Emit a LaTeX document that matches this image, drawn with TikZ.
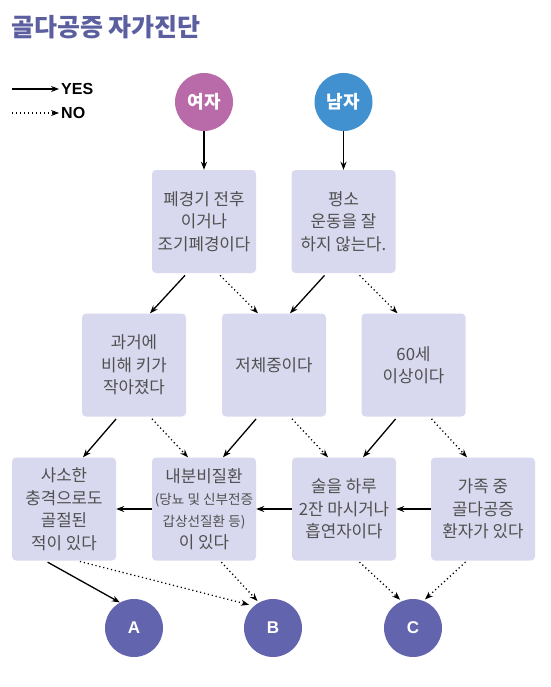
\documentclass[tikz,border=0pt]{standalone}
\usepackage{fontspec}
\setmainfont{Noto Sans CJK KR}
\newfontfamily\latinb{Liberation Sans}
\usetikzlibrary{arrows.meta}
\definecolor{boxfill}{HTML}{D8D9EF}
\definecolor{titlecol}{HTML}{5B5FA0}
\definecolor{femcol}{HTML}{B96AA9}
\definecolor{malecol}{HTML}{4190D0}
\definecolor{endcol}{HTML}{6264AE}
\definecolor{txtcol}{HTML}{505050}
\tikzset{
  qbox/.style={fill=boxfill, rounded corners=4pt, minimum width=104pt, minimum height=103pt,
    inner sep=0pt, align=center, text=txtcol, font=\fontsize{16.8}{22.5}\selectfont},
  startc/.style={circle, minimum size=58pt, inner sep=0pt, text=white, font=\bfseries\fontsize{18}{20}\selectfont},
  endc/.style={circle, fill=endcol, minimum size=58pt, inner sep=0pt, text=white, font=\latinb\bfseries\fontsize{17}{18}\selectfont},
  yes/.style={draw=black, line width=1.3pt, -{Stealth[length=8pt,width=6pt]}},
  no/.style={draw=black, line width=1.3pt, dash pattern=on 1.2pt off 2.8pt, -{Stealth[length=8pt,width=6pt]}},
  legtxt/.style={anchor=west, inner sep=0pt, font=\latinb\bfseries\fontsize{16}{18}\selectfont}
}
\begin{document}
\begin{tikzpicture}[x=1pt,y=-1pt]
\useasboundingbox (0,0) rectangle (550,687);
% title
\node[anchor=base west, inner sep=0pt, text=titlecol, font=\bfseries\fontsize{25}{28}\selectfont] (title) at (11,36.5) {골다공증 자가진단};
% legend
\coordinate (ys) at (12,89);
\coordinate (ye) at (59,89);
\coordinate (ns) at (12,113);
\coordinate (ne) at (59,113);
\draw[yes, line width=1.1pt] (ys) -- (ye);
\draw[no, line width=1.1pt] (ns) -- (ne);
\node[legtxt] (yesl) at (61,89) {YES};
\node[legtxt] (nol) at (61,113) {NO};
% start circles
\node[startc, fill=femcol] (F) at (204,102) {여자};
\node[startc, fill=malecol] (M) at (343.5,102) {남자};
% row 1
\node[qbox] (b1) at (204,221.5) {폐경기 전후\\이거나\\조기폐경이다};
\node[qbox] (b2) at (343.5,221.5) {평소\\운동을 잘\\하지 않는다.};
% row 2
\node[qbox] (r2a) at (134,365) {과거에\\비해 키가\\작아졌다};
\node[qbox] (r2b) at (274,365) {저체중이다};
\node[qbox] (r2c) at (413.5,365) {60세\\이상이다};
% row 3
\node[qbox] (r3a) at (64,509) {사소한\\충격으로도\\골절된\\적이 있다};
\node[qbox] (r3b) at (204,509) {내분비질환\\[-1pt]{\fontsize{13.6}{21}\selectfont (당뇨 및 신부전증}\\{\fontsize{13.6}{21}\selectfont 갑상선질환 등)}\\[-1pt]이 있다};
\node[qbox] (r3c) at (344,509) {술을 하루\\2잔 마시거나\\흡연자이다};
\node[qbox] (r3d) at (483,509) {가족 중\\골다공증\\환자가 있다};
% end circles
\node[endc] (A) at (134,628) {A};
\node[endc] (B) at (273,628) {B};
\node[endc] (C) at (413,628) {C};
% arrows from start
\draw[yes] (F) -- (b1);
\draw[yes] (M) -- (b2);
% row1 -> row2
\draw[yes, shorten <=3pt] ([xshift=-17pt]b1.south) -- ([xshift=16pt]r2a.north);
\draw[no, shorten <=3pt] ([xshift=14pt]b1.south) -- ([xshift=-16pt]r2b.north);
\draw[yes, shorten <=3pt] ([xshift=-17pt]b2.south) -- ([xshift=16pt]r2b.north);
\draw[no, shorten <=3pt] ([xshift=14pt]b2.south) -- ([xshift=-16pt]r2c.north);
% row2 -> row3
\draw[yes, shorten <=3pt] ([xshift=-16pt]r2a.south) -- ([xshift=19pt]r3a.north);
\draw[no, shorten <=3pt] ([xshift=16pt]r2a.south) -- ([xshift=-16pt]r3b.north);
\draw[yes, shorten <=3pt] ([xshift=-16pt]r2b.south) -- ([xshift=19pt]r3b.north);
\draw[no, shorten <=3pt] ([xshift=16pt]r2b.south) -- ([xshift=-16pt]r3c.north);
\draw[yes, shorten <=3pt] ([xshift=-16pt]r2c.south) -- ([xshift=19pt]r3c.north);
\draw[no, shorten <=3pt] ([xshift=16pt]r2c.south) -- ([xshift=-16pt]r3d.north);
% horizontal
\draw[yes] (r3b) -- (r3a);
\draw[yes] (r3c) -- (r3b);
\draw[yes] (r3d) -- (r3c);
% row3 -> end
\draw[yes, shorten <=3pt] ([xshift=-19pt]r3a.south) -- (A.119);
\draw[no, shorten <=3pt, shorten >=5pt] ([xshift=13pt]r3a.south) -- (B.131);
\draw[no, shorten <=2pt, shorten >=2pt] ([xshift=16pt]r3b.south) -- (B.119);
\draw[no, shorten <=2pt, shorten >=2pt] ([xshift=14pt]r3c.south) -- (C.113);
\draw[no, shorten <=2pt, shorten >=2pt] ([xshift=-16pt]r3d.south) -- (C.69);
\end{tikzpicture}
\end{document}
